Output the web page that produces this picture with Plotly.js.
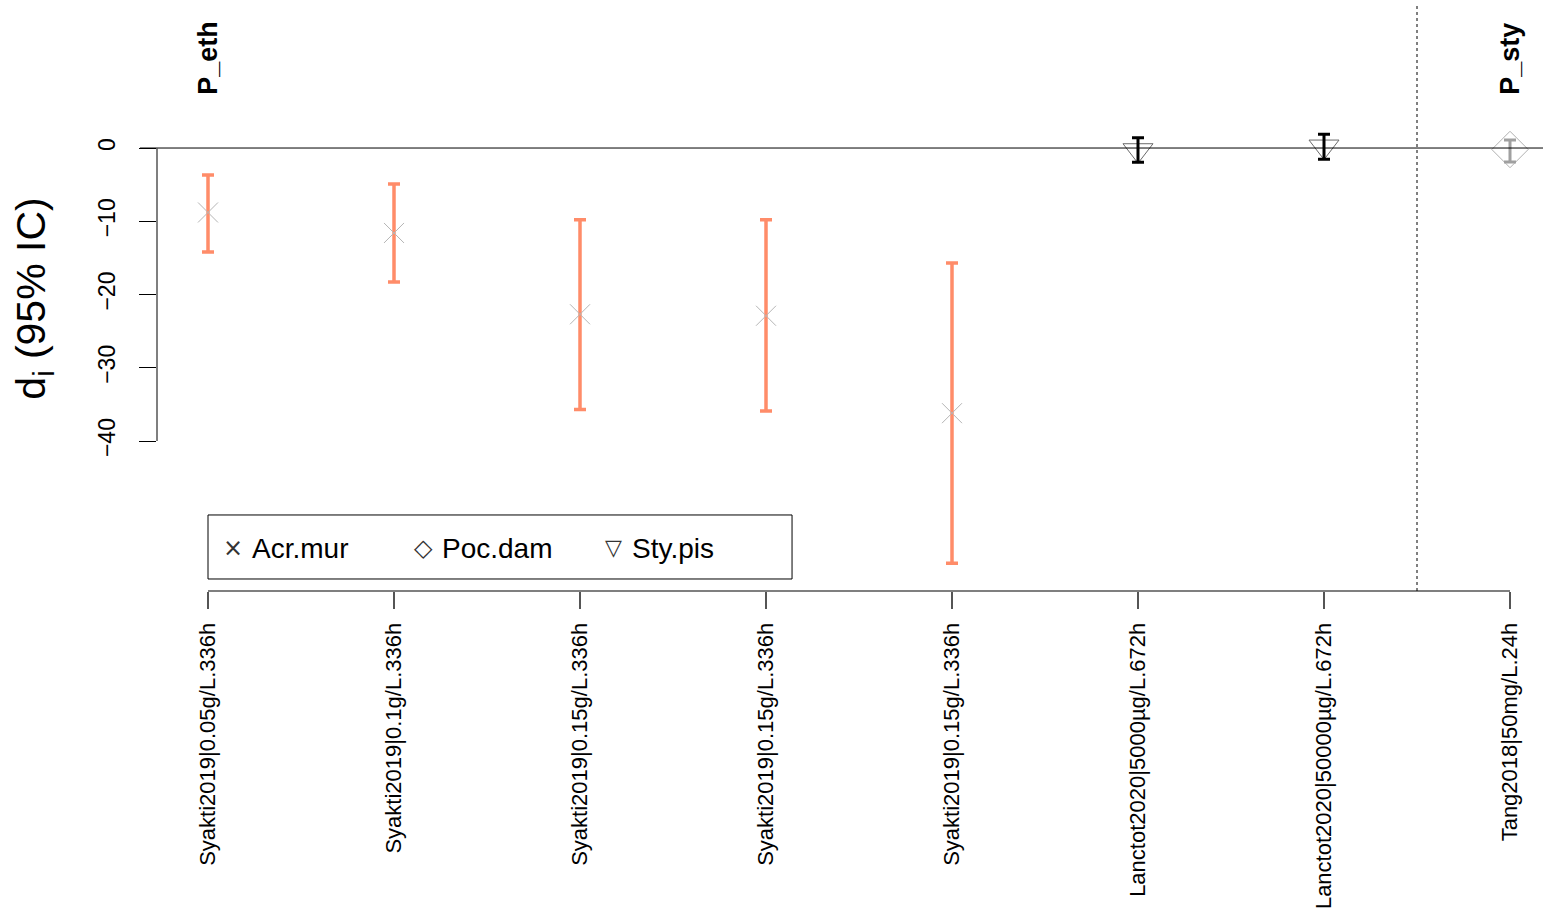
<!DOCTYPE html>
<html>
<head>
<meta charset="utf-8">
<script src="https://cdn.plot.ly/plotly-3.0.1.min.js"></script>
<style>html,body{margin:0;padding:0;background:#fff;}#chart{width:1543px;height:909px;}</style>
</head>
<body>
<div id="chart"></div>
<script>
// ---- data ----
const studies = ["Syakti2019|0.05g/L.336h","Syakti2019|0.1g/L.336h","Syakti2019|0.15g/L.336h","Syakti2019|0.15g/L.336h","Syakti2019|0.15g/L.336h","Lanctot2020|5000µg/L.672h","Lanctot2020|50000µg/L.672h","Tang2018|50mg/L.24h"];
const species = ["Acr.mur","Acr.mur","Acr.mur","Acr.mur","Acr.mur","Sty.pis","Sty.pis","Poc.dam"];
const estimate = [-8.8,-11.6,-22.7,-22.9,-36.2,-0.3,0.2,-0.2];
const lower = [-14.2,-18.3,-35.7,-35.9,-56.7,-1.95,-1.55,-1.9];
const upper = [-3.7,-4.9,-9.8,-9.8,-15.7,1.4,1.87,1.1];
const groups = ["P_eth","P_eth","P_eth","P_eth","P_eth","P_eth","P_eth","P_sty"];
const legendLabels = ["Acr.mur","Poc.dam","Sty.pis"];
const yTicks = [0,-10,-20,-30,-40];

const FONT = "Liberation Sans, Arial, sans-serif";
const xpos = studies.map((_, i) => i + 1);

const style = {
  "Acr.mur": {symbol:"x-thin-open", size:20, mcolor:"#b5b5b5", ecolor:"#ff8c69", ethick:3.5, barsOnTop:false, glyph:"×", gsize:24},
  "Sty.pis": {symbol:"triangle-down-open", size:26, mcolor:"#6a6a6a", ecolor:"#000000", ethick:3, barsOnTop:true, glyph:"▽", gsize:22},
  "Poc.dam": {symbol:"diamond-open", size:28, mcolor:"#b0b0b0", ecolor:"#a0a0a0", ethick:3, barsOnTop:true, glyph:"◇", gsize:24}
};

const traces = [];
["Acr.mur","Sty.pis","Poc.dam"].forEach(sp => {
  const idx = species.map((s,i)=> s===sp ? i : -1).filter(i=>i>=0);
  const st = style[sp];
  const x = idx.map(i=>xpos[i]);
  const y = idx.map(i=>estimate[i]);
  const bars = {
    type:"scatter", mode:"markers", x:x, y:y, showlegend:false, hoverinfo:"skip",
    marker:{size:1, color:"rgba(0,0,0,0)"},
    error_y:{type:"data", symmetric:false,
      array: idx.map(i=>upper[i]-estimate[i]),
      arrayminus: idx.map(i=>estimate[i]-lower[i]),
      color:st.ecolor, thickness:st.ethick, width:6}
  };
  const pts = {
    type:"scatter", mode:"markers", x:x, y:y, name:sp, showlegend:false,
    text: idx.map(i=>studies[i]),
    marker:{symbol:st.symbol, size:st.size, color:st.mcolor, line:{color:st.mcolor, width:1}}
  };
  if (st.barsOnTop) { traces.push(pts, bars); } else { traces.push(bars, pts); }
});

const L = 157, PW = 1386;
const xr = [0.7258, 8.1774];
const yr = [-60.48, 19.39];

const annotations = [];
const groupFirst = {};
groups.forEach((g,i)=>{ if(!(g in groupFirst)) groupFirst[g]=i; });
Object.keys(groupFirst).forEach(g=>{
  annotations.push({x:xpos[groupFirst[g]], y:7.0, xref:"x", yref:"y", text:"<b>"+g+"</b>",
    textangle:-90, showarrow:false, yanchor:"bottom", xanchor:"center",
    font:{family:FONT, size:27, color:"#000"}});
});
// legend
const legSymX = [1.134, 2.161, 3.18];
const legTxtX = [1.226, 2.247, 3.269];
legendLabels.forEach((lab,k)=>{
  annotations.push({x:legSymX[k], y:-54.6, xref:"x", yref:"y", text:style[lab].glyph, showarrow:false,
    xanchor:"center", yanchor:"middle", font:{family:"DejaVu Sans, sans-serif", size:style[lab].gsize, color:"#333"}});
  annotations.push({x:legTxtX[k], y:-54.7, xref:"x", yref:"y", text:lab, showarrow:false,
    xanchor:"left", yanchor:"middle", font:{family:FONT, size:28, color:"#000"}});
});

const shapes = [
  {type:"line", xref:"paper", yref:"y", x0:-17/PW, x1:1, y0:0, y1:0, line:{color:"#000", width:1}},
  {type:"line", xref:"paper", yref:"y", x0:0, x1:0, y0:yTicks[0], y1:yTicks[yTicks.length-1], line:{color:"#555", width:1.5}},
  {type:"line", xref:"x", yref:"paper", x0:xpos[0], x1:xpos[xpos.length-1], y0:0, y1:0, line:{color:"#555", width:1.5}},
  {type:"line", xref:"x", yref:"paper", x0:7.5, x1:7.5, y0:0, y1:1, line:{color:"#000", width:1, dash:"dot"}},
  {type:"rect", xref:"x", yref:"y", x0:1, x1:4.14, y0:-50.1, y1:-58.84, line:{color:"#000", width:1}, fillcolor:"rgba(0,0,0,0)"}
];

const layout = {
  width:1543, height:909,
  margin:{l:L, r:0, t:6, b:318},
  paper_bgcolor:"#fff", plot_bgcolor:"#fff",
  showlegend:false,
  font:{family:FONT, color:"#000"},
  xaxis:{range:xr, tickmode:"array", tickvals:xpos, ticktext:studies, tickangle:-90,
    ticks:"outside", ticklen:17, tickcolor:"#555", tickwidth:1.5, showgrid:false, zeroline:false, showline:false,
    ticklabelstandoff:5,
    tickfont:{family:FONT, size:22, color:"#000"}},
  yaxis:{range:yr, tickmode:"array", tickvals:yTicks, tickangle:-90,
    ticks:"outside", ticklen:17, tickcolor:"#000", tickwidth:1, showgrid:false, zeroline:false, showline:false,
    ticklabelstandoff:15,
    tickfont:{family:FONT, size:23, color:"#000"},
    title:{text:"d<sub>i</sub> (95% IC)", font:{family:FONT, size:41, color:"#000"}, standoff:35}},
  shapes:shapes, annotations:annotations
};

Plotly.newPlot("chart", traces, layout, {displayModeBar:false, staticPlot:true});
</script>
</body>
</html>
